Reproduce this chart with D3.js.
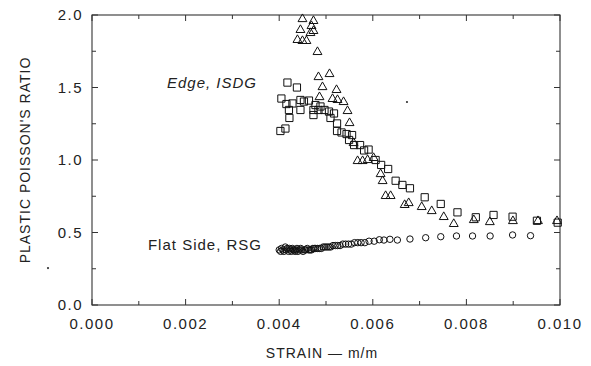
<!DOCTYPE html>
<html><head><meta charset="utf-8">
<script src="https://cdn.jsdelivr.net/npm/d3@7"></script>
<style>body{margin:0;background:#fff}svg{display:block}text{font-family:"Liberation Sans",Arial,sans-serif;fill:#222}</style>
</head><body><svg id="c" width="591" height="366"></svg>
<script>
// Edge, ISDG (triangles)
const triX = [0.004497,0.004732,0.004690,0.004454,0.004732,0.004668,0.004390,0.004497,0.004582,0.004818,
  0.004839,0.005075,0.004925,0.005225,0.004861,0.005139,0.005246,0.005375,0.005460,0.005503,
  0.005589,0.005675,0.005782,0.005889,0.006017,0.006167,0.006210,0.006274,0.006381,0.006681,
  0.006767,0.007045,0.007259,0.007516,0.007730,0.008158,0.008501,0.008994,0.009529,0.009936];
const triY = [1.972,1.959,1.924,1.897,1.890,1.876,1.828,1.821,1.821,1.745,
  1.572,1.593,1.503,1.483,1.434,1.421,1.414,1.400,1.338,1.255,
  1.117,0.993,0.993,1.000,1.014,0.903,0.855,0.752,0.752,0.690,
  0.703,0.676,0.648,0.607,0.559,0.586,0.572,0.579,0.579,0.579];
// Edge, ISDG (squares)
const sqX = [0.004026,0.004133,0.004047,0.004176,0.004154,0.004208,0.004218,0.004283,0.004379,0.004454,
  0.004454,0.004529,0.004636,0.004732,0.004732,0.004775,0.004839,0.004882,0.004968,0.005064,
  0.005096,0.005171,0.005236,0.005236,0.005332,0.005439,0.005557,0.005493,0.005600,0.005728,
  0.005814,0.005910,0.006060,0.006178,0.006328,0.006488,0.006632,0.006794,0.007109,0.007452,
  0.007809,0.008201,0.008580,0.008987,0.009507,0.009951];
const sqY = [1.200,1.217,1.424,1.534,1.386,1.345,1.290,1.390,1.500,1.414,
  1.345,1.403,1.410,1.345,1.310,1.379,1.345,1.369,1.345,1.334,
  1.290,1.321,1.252,1.200,1.190,1.179,1.172,1.138,1.103,1.103,
  1.066,1.072,1.000,0.966,0.938,0.857,0.828,0.805,0.743,0.697,
  0.639,0.605,0.621,0.609,0.581,0.568];
// Flat Side, RSG (circles)
const cirX = [0.00400,0.00403,0.00405,0.00408,0.00410,0.00413,0.00415,0.00417,0.00420,0.00422,
  0.00424,0.00426,0.00428,0.00430,0.00432,0.00434,0.00436,0.00438,0.00440,0.00443,
  0.00446,0.00448,0.00451,0.00454,0.00457,0.00460,0.00463,0.00466,0.00469,0.00472,
  0.00475,0.00478,0.00482,0.00486,0.00490,0.00494,0.00498,0.00502,0.00506,0.00510,
  0.00515,0.00520,0.00525,0.00530,0.00536,0.00542,0.00548,0.00554,0.00561,0.00568,
  0.00575,0.00583,0.00592,0.00603,0.00614,0.006238,0.006366,0.006525,0.006794,0.00713,
  0.007452,0.007788,0.008131,0.008507,0.008987,0.00937];
const cirY = [0.38,0.37,0.39,0.38,0.37,0.40,0.38,0.39,0.37,0.39,
  0.38,0.37,0.39,0.38,0.38,0.37,0.38,0.39,0.37,0.38,
  0.39,0.38,0.37,0.38,0.38,0.39,0.38,0.38,0.38,0.39,
  0.39,0.39,0.39,0.39,0.39,0.40,0.40,0.40,0.40,0.40,
  0.41,0.41,0.41,0.41,0.42,0.42,0.42,0.42,0.43,0.43,
  0.43,0.43,0.44,0.44,0.45,0.448,0.453,0.448,0.455,0.464,
  0.471,0.476,0.476,0.476,0.483,0.478];
// stray specks on the original figure
const speckX = [0.00673,-0.00094];
const speckY = [1.40,0.255];
const xTicks = [0,0.002,0.004,0.006,0.008,0.010];
const xTickLabels = ["0.000","0.002","0.004","0.006","0.008","0.010"];
const yTicks = [0,0.5,1.0,1.5,2.0];
const yTickLabels = ["0.0","0.5","1.0","1.5","2.0"];
const xMinor = [0.001,0.003,0.005,0.007,0.009];
const yMinor = [0.25,0.75,1.25,1.75];

const L=92,R=560,T=15,B=305;
const svg=d3.select("#c");
const x=d3.scaleLinear().domain([0,0.010]).range([L,R]);
const y=d3.scaleLinear().domain([0,2.0]).range([B,T]);
const ax="#333";
svg.append("rect").attr("x",L).attr("y",T).attr("width",R-L).attr("height",B-T).attr("fill","none").attr("stroke",ax).attr("stroke-width",1.1);
function tk(vals,len,isX){
  vals.forEach(v=>{
    if(isX){
      const p=x(v);
      svg.append("line").attr("x1",p).attr("x2",p).attr("y1",B).attr("y2",B-len).attr("stroke",ax);
      svg.append("line").attr("x1",p).attr("x2",p).attr("y1",T).attr("y2",T+len).attr("stroke",ax);
    } else {
      const p=y(v);
      svg.append("line").attr("y1",p).attr("y2",p).attr("x1",L).attr("x2",L+len).attr("stroke",ax);
      svg.append("line").attr("y1",p).attr("y2",p).attr("x1",R).attr("x2",R-len).attr("stroke",ax);
    }
  });
}
tk(xTicks,6,true);tk(xMinor,4,true);tk(yTicks,6,false);tk(yMinor,4,false);
const fs=15;
xTicks.forEach((v,i)=>svg.append("text").attr("x",x(v)).attr("y",329).attr("text-anchor","middle")
  .attr("font-size",fs).attr("letter-spacing",1.5).text(xTickLabels[i]));
yTicks.forEach((v,i)=>svg.append("text").attr("x",83).attr("y",y(v)+5).attr("text-anchor","end")
  .attr("font-size",fs).attr("letter-spacing",1.5).text(yTickLabels[i]));
svg.append("text").attr("x",322).attr("y",358).attr("text-anchor","middle").attr("font-size",14).attr("letter-spacing",1)
  .text("STRAIN \u2014 m/m");
svg.append("text").attr("transform","translate(30,160) rotate(-90)").attr("text-anchor","middle").attr("font-size",14).attr("letter-spacing",1)
  .text("PLASTIC POISSON'S RATIO");
svg.append("text").attr("x",257).attr("y",88).attr("text-anchor","end").attr("font-size",15).attr("font-style","italic").attr("letter-spacing",1)
  .text("Edge, ISDG");
svg.append("text").attr("x",262).attr("y",250).attr("text-anchor","end").attr("font-size",15).attr("letter-spacing",1)
  .text("Flat Side, RSG");

const g=svg.append("g").attr("fill","none").attr("stroke","#111").attr("stroke-width",1);
g.selectAll("path.t").data(triX).join("path").attr("class","t")
  .attr("d",d3.symbol(d3.symbolTriangle,34)()).attr("transform",(d,i)=>`translate(${x(d)},${y(triY[i])})`);
g.selectAll("path.s").data(sqX).join("path").attr("class","s")
  .attr("d",d3.symbol(d3.symbolSquare,52)()).attr("transform",(d,i)=>`translate(${x(d)},${y(sqY[i])})`);
g.selectAll("circle").data(cirX).join("circle").attr("r",3.2).attr("cx",d=>x(d)).attr("cy",(d,i)=>y(cirY[i]));
svg.selectAll("circle.sp").data(speckX).join("circle").attr("class","sp").attr("r",1.1).attr("fill","#333")
  .attr("cx",d=>x(d)).attr("cy",(d,i)=>y(speckY[i]));
</script></body></html>
